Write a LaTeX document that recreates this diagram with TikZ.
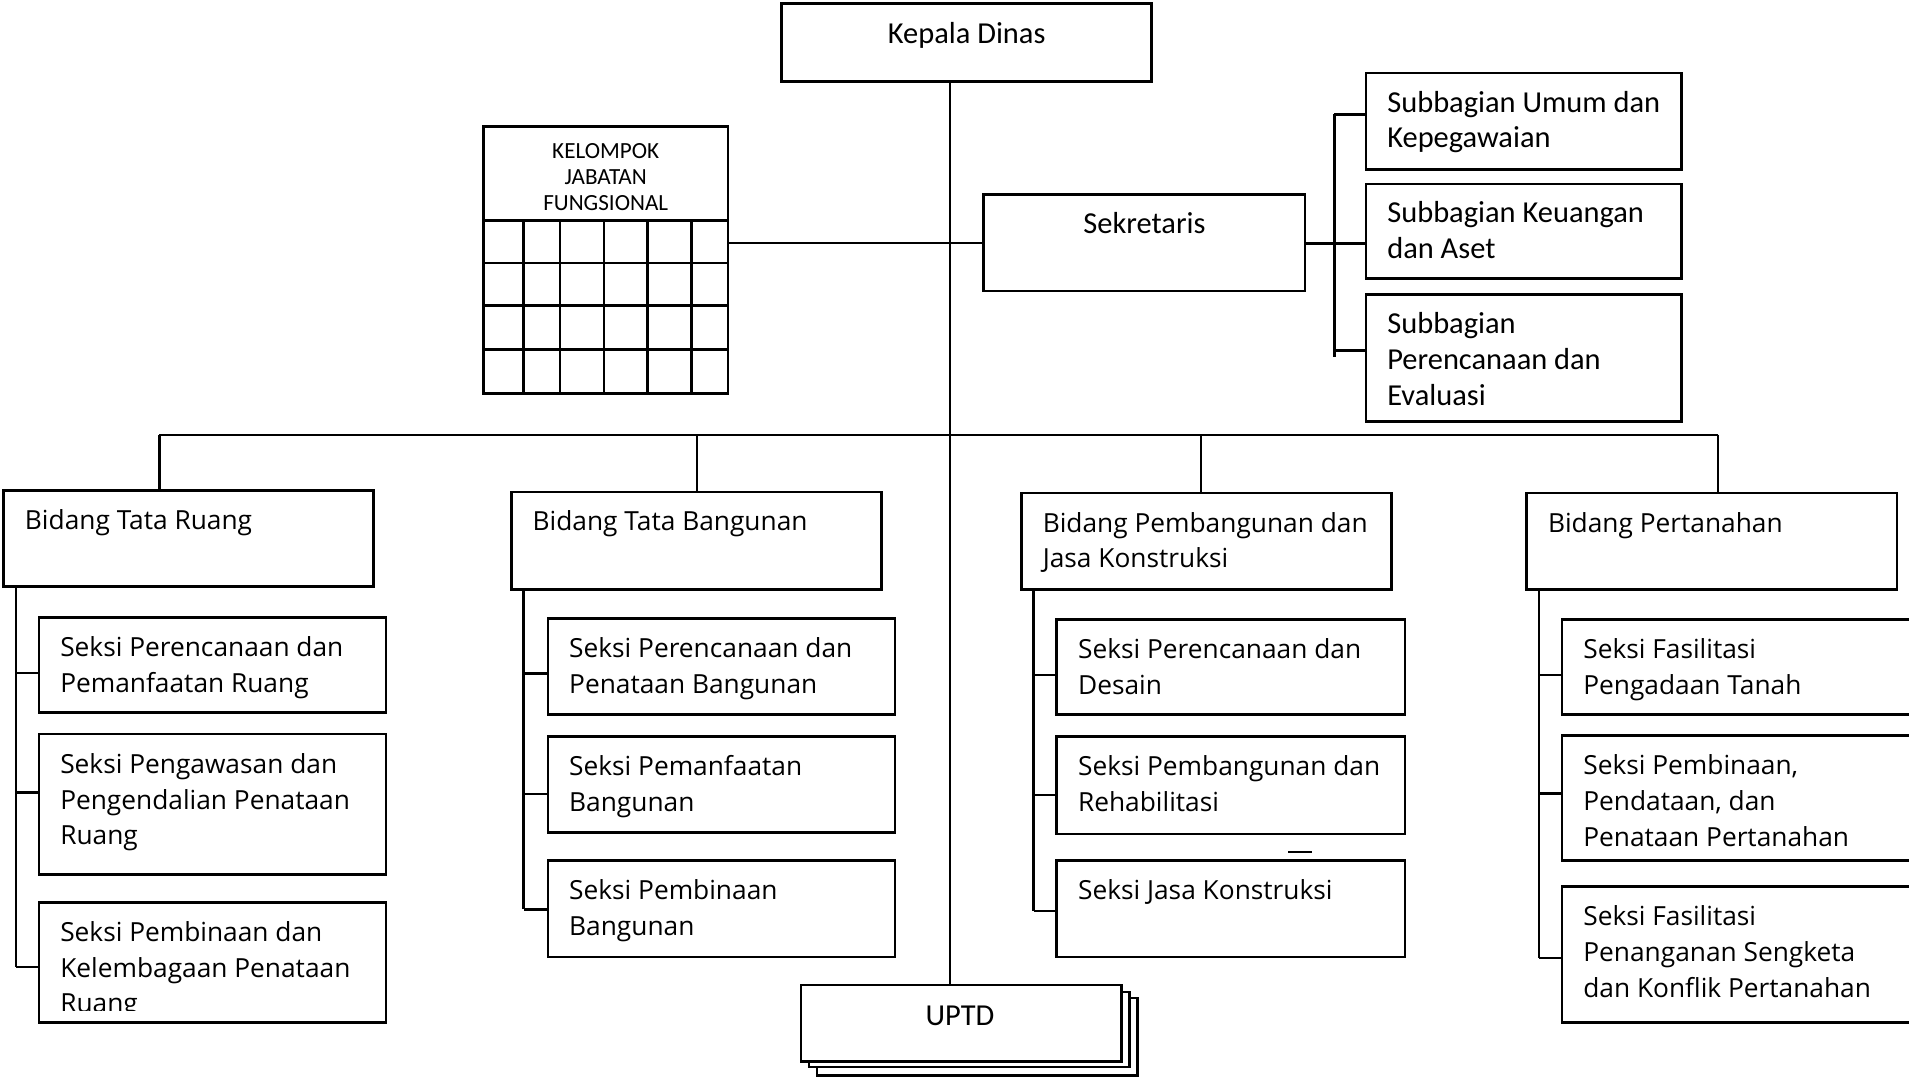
\documentclass[tikz,border=0pt]{standalone}
\usepackage{fontspec}
\setmainfont{Open Sans}
\newfontfamily\calfont{Carlito}
\usetikzlibrary{calc}

\tikzset{
  box/.style={draw, line width=1.1pt, fill=white, inner sep=0pt, outer sep=0pt},
  wire/.style={line width=1pt},
  busline/.style={line width=0.75pt},
  txt/.style={inner sep=0pt, outer sep=0pt, font=\fontsize{10.8}{14.75}\selectfont},
  ctxt/.style={inner sep=0pt, outer sep=0pt, font=\calfont\fontsize{12.5}{14.75}\selectfont},
  smalltxt/.style={inner sep=0pt, outer sep=0pt, font=\calfont\fontsize{9.5}{10.75}\selectfont},
}

% box given by its corners (x1,y1) and (x2,y2)
\newcommand\orgbox[5]{%
  \pgfmathsetmacro\bw{(#4-#2)*0.5}%
  \pgfmathsetmacro\bh{(#5-#3)*0.5}%
  \node[box, minimum width=\bw pt, minimum height=\bh pt] (#1) at ({(#2+#4)/2},{(#3+#5)/2}) {};}

% left-aligned text in the upper left corner of a box
\newcommand\boxlabel[3][txt]{%
  \node[#1, anchor=base west] (#2-t) at ($(#2.north west)+(17.5,32)$)
    {\begin{tabular}[t]{@{}l@{}}#3\end{tabular}};}

\begin{document}
\begin{tikzpicture}[x=0.5pt, y=-0.5pt]
\useasboundingbox (0,0) rectangle (1568,885);
\clip (0,0) rectangle (1568,885);

% ---------- top level ----------
\orgbox{kd}{642}{3}{946}{67}
\node[ctxt, anchor=base] (kd-t) at (794,36) {Kepala Dinas};

% main trunk
\draw[line width=0.9pt] (kd.south -| 780,0) -- (780,809);

% functional group with its grid
\orgbox{kjf}{397}{104}{598}{323}
\node[smalltxt, anchor=base] (kjf-t) at (497.5,130)
  {\begin{tabular}[t]{@{}c@{}}KELOMPOK\\JABATAN\\FUNGSIONAL\end{tabular}};
\foreach \yy in {181,216,251,287}
  \draw[wire] (kjf.west |- 0,\yy) -- (kjf.east |- 0,\yy);
\foreach \xx in {430,460,496,532,568}
  \draw[wire] (\xx,181) -- (kjf.south -| \xx,0);

% secretary
\orgbox{sek}{808}{160}{1072}{239}
\node[ctxt, anchor=base] (sek-t) at (940,192) {Sekretaris};
\draw[wire] (kjf.east |- sek.west) -- (sek.west);

\orgbox{sb1}{1122}{60}{1381}{139}
\orgbox{sb2}{1122}{151}{1381}{229}
\orgbox{sb3}{1122}{242}{1381}{346}
\boxlabel[ctxt]{sb1}{Subbagian Umum dan\\Kepegawaian}
\boxlabel[ctxt]{sb2}{Subbagian Keuangan\\dan Aset}
\boxlabel[ctxt]{sb3}{Subbagian\\Perencanaan dan\\Evaluasi}

\coordinate (sbr) at (1096,200);
\draw[wire] (sek.east |- sbr) -- (sbr);
\draw[wire] (sbr |- 0,94) -- (sbr |- 0,293);
\draw[wire] (sbr |- 0,94) -- (sb1.west |- 0,94);
\draw[wire] (sbr) -- (sb2.west |- sbr);
\draw[wire] (sbr |- 0,288) -- (sb3.west |- 0,288);

% ---------- divisions ----------
\orgbox{b1}{3}{403}{307}{482}
\orgbox{b2}{420}{404}{724}{484}
\orgbox{b3}{839}{405}{1143}{484}
\orgbox{b4}{1254}{405}{1558}{484}
\boxlabel{b1}{Bidang Tata Ruang}
\boxlabel{b2}{Bidang Tata Bangunan}
\boxlabel{b3}{Bidang Pembangunan dan\\Jasa Konstruksi}
\boxlabel{b4}{Bidang Pertanahan}

\coordinate (busl) at (131,357);
\coordinate (busr) at (1411,357);
\draw[busline] (busl) -- (busr);
\draw[wire] (busl) -- (b1.north -| busl);
\draw[wire] (572.5,357) -- (b2.north -| 572.5,0);
\draw[wire] (986.5,357) -- (b3.north -| 986.5,0);
\draw[wire] (busr) -- (b4.north -| busr);

% ---------- sections: Tata Ruang ----------
\orgbox{r1}{32}{507}{317}{585}
\orgbox{r2}{32}{603}{317}{718}
\orgbox{r3}{32}{741}{317}{840}
\boxlabel{r1}{Seksi Perencanaan dan\\Pemanfaatan Ruang}
\boxlabel{r2}{Seksi Pengawasan dan\\Pengendalian Penataan\\Ruang}
\begin{scope}
  \clip (r3.north west) rectangle (r3.east |- 0,830);
  \boxlabel{r3}{Seksi Pembinaan dan\\Kelembagaan Penataan\\Ruang}
\end{scope}
\draw[wire] (b1.south -| 13,0) -- (13,794.4);
\foreach \yy/\c in {552.7/r1,650.9/r2,794.4/r3}
  \draw[wire] (13,\yy) -- (\c.west |- 13,\yy);

% ---------- sections: Tata Bangunan ----------
\orgbox{g1}{450}{508}{735}{587}
\orgbox{g2}{450}{605}{735}{684}
\orgbox{g3}{450}{707}{735}{786}
\boxlabel{g1}{Seksi Perencanaan dan\\Penataan Bangunan}
\boxlabel{g2}{Seksi Pemanfaatan\\Bangunan}
\boxlabel{g3}{Seksi Pembinaan\\Bangunan}
\draw[wire] (b2.south -| 430,0) -- (430,747);
\foreach \yy/\c in {553.2/g1,652.3/g2,747/g3}
  \draw[wire] (430,\yy) -- (\c.west |- 430,\yy);

% ---------- sections: Pembangunan dan Jasa Konstruksi ----------
\orgbox{p1}{868}{509}{1154}{587}
\orgbox{p2}{868}{605}{1154}{685}
\orgbox{p3}{868}{707}{1154}{786}
\boxlabel{p1}{Seksi Perencanaan dan\\Desain}
\boxlabel{p2}{Seksi Pembangunan dan\\Rehabilitasi}
\boxlabel{p3}{Seksi Jasa Konstruksi}
\draw[wire] (b3.south -| 849,0) -- (849,748.4);
\foreach \yy/\c in {554.6/p1,653/p2,748.4/p3}
  \draw[wire] (849,\yy) -- (\c.west |- 849,\yy);
\draw[wire] (1058,700) -- (1078,700);

% ---------- sections: Pertanahan ----------
\orgbox{t1}{1283}{509}{1580}{587}
\orgbox{t2}{1283}{604}{1580}{707}
\orgbox{t3}{1283}{728}{1580}{840}
\boxlabel{t1}{Seksi Fasilitasi\\Pengadaan Tanah}
\boxlabel{t2}{Seksi Pembinaan,\\Pendataan, dan\\Penataan Pertanahan}
\boxlabel{t3}{Seksi Fasilitasi\\Penanganan Sengketa\\dan Konflik Pertanahan}
\draw[wire] (b4.south -| 1264,0) -- (1264,787);
\foreach \yy/\c in {554.2/t1,651.6/t2,787/t3}
  \draw[wire] (1264,\yy) -- (\c.west |- 1264,\yy);

% ---------- technical units (stacked) ----------
\orgbox{uptdc}{671}{819.7}{934.4}{883.5}
\orgbox{uptdb}{664.5}{814.7}{927.5}{876.5}
\orgbox{uptd}{658}{809}{921}{872}
\node[ctxt, anchor=base] (uptd-t) at (788.5,842) {UPTD};
\end{tikzpicture}
\end{document}
